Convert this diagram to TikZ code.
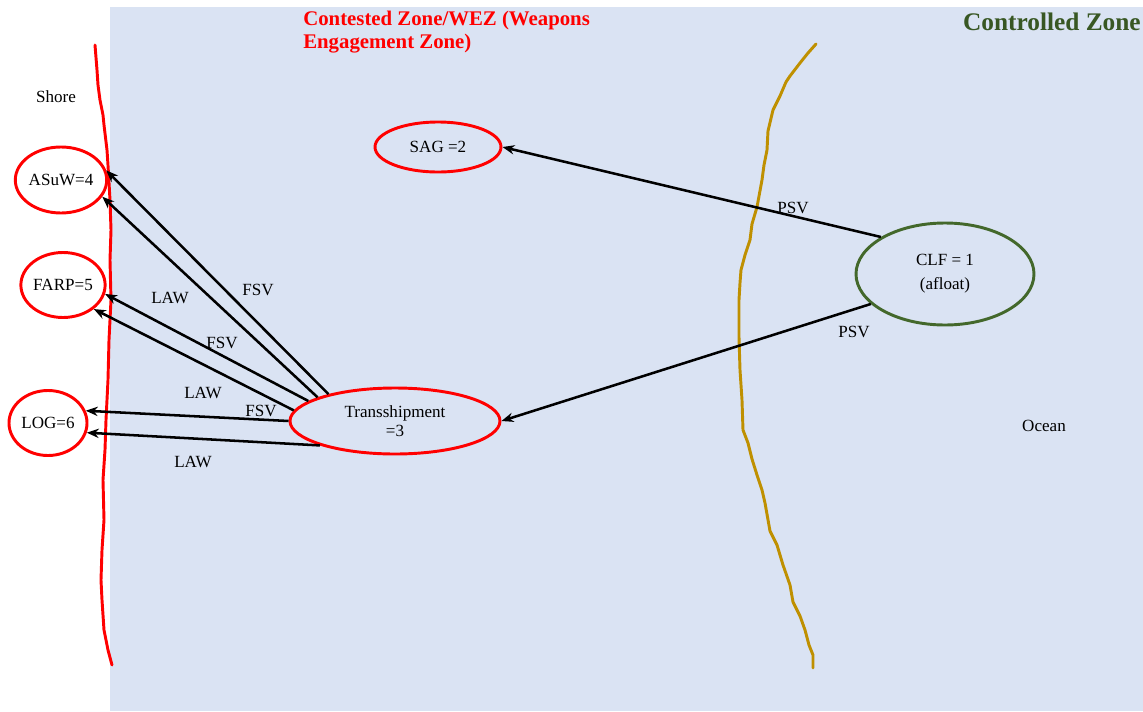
\documentclass[tikz,border=0pt]{standalone}
\usepackage{fontspec}
\setmainfont{Liberation Serif}
\usetikzlibrary{shapes.geometric,arrows.meta}
\definecolor{seabg}{HTML}{DAE3F3}
\definecolor{zonegreen}{HTML}{385723}
\definecolor{ellgreen}{HTML}{43682B}
\definecolor{goldline}{HTML}{BF9000}
\begin{document}
\begin{tikzpicture}[x=0.75pt,y=-0.75pt,
  redell/.style={ellipse,draw=red,line width=2.2pt,inner sep=0pt,font=\fontsize{12.8}{14}\selectfont,align=center},
  greenell/.style={ellipse,draw=ellgreen,line width=2.2pt,inner sep=0pt,font=\fontsize{12.8}{18}\selectfont,align=center},
  lbl/.style={font=\fontsize{12.8}{14}\selectfont,inner sep=0pt},
  arr/.style={line width=1.9pt,-{Stealth[length=9pt,width=7pt]}}]
\useasboundingbox (0,0) rectangle (1143,711);
\fill[seabg] (110,7) rectangle (1143,711);
% shore line
\draw[red,line width=2.2pt,line cap=round,line join=round] plot coordinates {(95,45) (97,70) (98,85) (100,100) (103,115) (104,125) (107,150) (108,165) (110,200) (111,230) (110,260) (111,300) (109,340) (108,380) (106,420) (105,450) (103,480) (104,520) (102,550) (101,580) (102,600) (104,630) (108,650) (112,665)};
% controlled zone boundary
\draw[goldline,line width=2.2pt,line cap=round,line join=round] plot coordinates {(816,44) (808,53) (800,63) (790,76) (786,82) (780,96) (773,110) (768,131) (767,150) (764,165) (762,180) (757,207) (752,224) (750,240) (745,255) (741,270) (740,283) (739,300) (739,337) (740,370) (742,400) (743,430) (748,443) (752,459) (757,475) (762,490) (765,503) (770,531) (777,545) (783,565) (790,585) (793,602) (800,616) (805,630) (809,645) (813,655) (813,668)};
% titles
\node[anchor=north west,align=left,text=red,font=\fontsize{15.6}{17.4}\bfseries\selectfont,inner sep=0pt] (contested) at (303,11) {Contested Zone/WEZ (Weapons\\Engagement Zone)};
\node[anchor=east,text=zonegreen,font=\fontsize{19}{22}\bfseries\selectfont,inner sep=0pt] (controlled) at (1141,22) {Controlled Zone};
\node[lbl] (shore) at (56,97) {Shore};
\node[lbl] (ocean) at (1044,426) {Ocean};
% nodes
\node[redell,minimum width=126*0.75pt,minimum height=50*0.75pt] (sag) at (438,147) {SAG =2};
\node[redell,minimum width=78*0.75pt,minimum height=66*0.75pt] (asuw) at (61,180) {ASuW=4};
\node[redell,minimum width=78*0.75pt,minimum height=65*0.75pt] (farp) at (63,285) {FARP=5};
\node[redell,minimum width=78*0.75pt,minimum height=65*0.75pt] (log) at (48,423) {LOG=6};
\node[redell,minimum width=210*0.75pt,minimum height=66*0.75pt] (tr) at (395,421) {Transshipment\\=3};
\node[greenell,minimum width=178*0.75pt,minimum height=102*0.75pt] (clf) at (945,274) {CLF = 1\\(afloat)};
% connectors
\draw[arr] (tr.158) -- (asuw.12);
\draw[arr] (tr.163) -- (asuw.338);
\draw[arr] (tr.167) -- (farp.348);
\draw[arr] (tr.174) -- (farp.322);
\draw[arr] (tr.180) -- (log.18);
\draw[arr] (tr.198) -- (log.346);
\draw[arr] (clf.150) -- (sag.east);
\draw[arr] (clf.202) -- (tr.east);
% connector labels
\node[lbl] (l1) at (258,290) {FSV};
\node[lbl] (l2) at (170,298) {LAW};
\node[lbl] (l3) at (222,343) {FSV};
\node[lbl] (l4) at (203,393) {LAW};
\node[lbl] (l5) at (261,411) {FSV};
\node[lbl] (l6) at (193,462) {LAW};
\node[lbl] (l7) at (793,208) {PSV};
\node[lbl] (l8) at (854,332) {PSV};
\end{tikzpicture}
\end{document}
